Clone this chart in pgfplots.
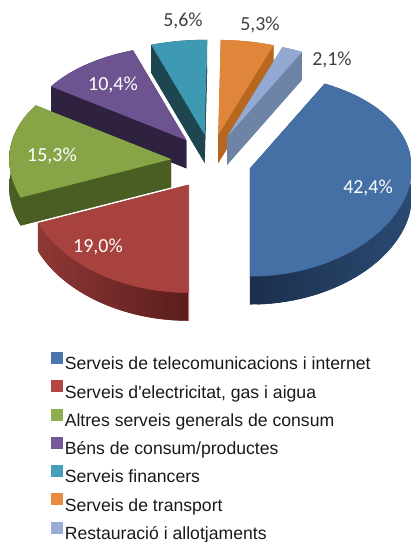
\documentclass[border=0pt]{standalone}
\usepackage{pgfplots}
\pgfplotsset{compat=1.18}
\usepackage{fontspec}
\setmainfont{Liberation Sans}
\newfontfamily\calibri{Carlito}

% top-face colours
\definecolor{tA}{HTML}{4470A6}
\definecolor{tB}{HTML}{A8423F}
\definecolor{tC}{HTML}{87A547}
\definecolor{tD}{HTML}{6D5490}
\definecolor{tE}{HTML}{3E9AB2}
\definecolor{tF}{HTML}{E0863A}
\definecolor{tG}{HTML}{93A8D2}
% side colours (left / right of gradient)
\definecolor{dA}{HTML}{1B2F4D}\definecolor{eA}{HTML}{2B4A72}
\definecolor{dB}{HTML}{8E3835}\definecolor{eB}{HTML}{5A1D1C}
\definecolor{dC}{HTML}{4A5E23}\definecolor{eC}{HTML}{4A5E23}
\definecolor{dD}{HTML}{2E2240}\definecolor{eD}{HTML}{2E2240}
\definecolor{dE}{HTML}{1D4650}\definecolor{eE}{HTML}{1D4650}
\definecolor{dF}{HTML}{B8671F}\definecolor{eF}{HTML}{B8671F}
\definecolor{dG}{HTML}{6E84A6}\definecolor{eG}{HTML}{6E84A6}
% legend colours
\definecolor{lA}{HTML}{4A76AE}
\definecolor{lB}{HTML}{B44744}
\definecolor{lC}{HTML}{8DAE4C}
\definecolor{lD}{HTML}{735997}
\definecolor{lE}{HTML}{44A0B8}
\definecolor{lF}{HTML}{E88B3E}
\definecolor{lG}{HTML}{98ADD5}

% data (percentages)
\def\vA{42.4}\def\vB{19.0}\def\vC{15.3}\def\vD{10.4}
\def\vE{5.6}\def\vF{5.3}\def\vG{2.1}

\pgfmathsetmacro\tot{\vA+\vB+\vC+\vD+\vE+\vF+\vG}
\pgfmathsetmacro\kk{360/\tot}
\pgfmathsetmacro\aA{180-\kk*\vA}
\pgfmathsetmacro\aB{180}
\pgfmathsetmacro\aC{\aB+\kk*\vB}
\pgfmathsetmacro\aD{\aC+\kk*\vC}
\pgfmathsetmacro\aE{\aD+\kk*\vD}
\pgfmathsetmacro\aF{\aE+\kk*\vE}
\pgfmathsetmacro\aG{\aF+\kk*\vF}
\pgfmathsetmacro\aH{\aA+360}

% geometry (px)
\def\CX{211}\def\CY{162}\def\RX{162}\def\RY{101.5}\def\RQ{6.5}
\def\EX{40}\def\EY{27.5}\def\HH{28}

\newcommand\drawslice[5]{%
 \pgfmathsetmacro\sM{(#1+#2)/2}%
 \pgfmathsetmacro\Px{\CX+\EX*sin(\sM)}%
 \pgfmathsetmacro\Py{\CY-\EY*cos(\sM)}%
 \pgfmathsetmacro\Ax{\Px+\RX*sin(#1)}%
 \pgfmathsetmacro\Ay{\Py-\RY*cos(#1)+\RQ*cos(#1)^2}%
 \pgfmathsetmacro\Bx{\Px+\RX*sin(#2)}%
 \pgfmathsetmacro\By{\Py-\RY*cos(#2)+\RQ*cos(#2)^2}%
 \pgfmathsetmacro\PyH{\Py+\HH}%
 \pgfmathsetmacro\AyH{\Ay+\HH}%
 \pgfmathsetmacro\ByH{\By+\HH}%
 \pgfmathsetmacro\sE{2*#2-#1}%
 \edef\temp{%
  \noexpand\addplot[forget plot,fill=#4,draw=none,domain=#1:#2,samples=60]
    ({\Px+\RX*sin(x)},{\PyH-\RY*cos(x)+\RQ*cos(x)^2}) -- (\Px,\PyH) -- cycle;
  \noexpand\addplot[forget plot,fill=#4,draw=none]
    coordinates {(\Px,\Py) (\Ax,\Ay) (\Ax,\AyH) (\Px,\PyH)} -- cycle;
  \noexpand\addplot[forget plot,fill=#4,draw=none]
    coordinates {(\Px,\Py) (\Bx,\By) (\Bx,\ByH) (\Px,\PyH)} -- cycle;
  \noexpand\addplot[forget plot,left color=#4,right color=#5,draw=none,domain=#1:\sE,samples=121]
    ({\Px+\RX*sin(min(x,2*#2-x))},{\Py+\HH*(x>#2)-\RY*cos(min(x,2*#2-x))+\RQ*cos(min(x,2*#2-x))^2}) -- cycle;
  \noexpand\addplot[forget plot,fill=#3,draw=none,domain=#1:#2,samples=60]
    ({\Px+\RX*sin(x)},{\Py-\RY*cos(x)+\RQ*cos(x)^2}) -- (\Px,\Py) -- cycle;
 }\temp}

\begin{document}
\begin{tikzpicture}
\begin{axis}[
  width=411bp, height=542bp, scale only axis,
  xmin=0, xmax=411, ymin=0, ymax=542, y dir=reverse,
  hide axis,
  legend cell align=left,
  legend style={at={(axis cs:50.7,351.8)}, anchor=north west, draw=none, fill=none,
    inner sep=0pt, column sep=2.5bp, row sep=9.0bp,
    font=\fontsize{17.7}{21}\selectfont, text=black!90,
    nodes={inner sep=0pt}},
]
\path (rel axis cs:0,0) rectangle (rel axis cs:1,1);

\drawslice{\aE}{\aF}{tE}{dE}{eE}
\drawslice{\aF}{\aG}{tF}{dF}{eF}
\drawslice{\aG}{\aH}{tG}{dG}{eG}
\drawslice{\aD}{\aE}{tD}{dD}{eD}
\drawslice{\aC}{\aD}{tC}{dC}{eC}
\drawslice{\aB}{\aC}{tB}{dB}{eB}
\drawslice{\aA}{\aB}{tA}{dA}{eA}

\node[font=\calibri\fontsize{20}{24}\selectfont, text=white] at (axis cs:368,188) {42,4\%};
\node[font=\calibri\fontsize{20}{24}\selectfont, text=white] at (axis cs:98,247) {19,0\%};
\node[font=\calibri\fontsize{20}{24}\selectfont, text=white] at (axis cs:52,156) {15,3\%};
\node[font=\calibri\fontsize{20}{24}\selectfont, text=white] at (axis cs:113,85) {10,4\%};
\node[font=\calibri\fontsize{20}{24}\selectfont, text=black!75] at (axis cs:183,21) {5,6\%};
\node[font=\calibri\fontsize{20}{24}\selectfont, text=black!75] at (axis cs:260,25) {5,3\%};
\node[font=\calibri\fontsize{20}{24}\selectfont, text=black!75] at (axis cs:332,60) {2,1\%};

\addlegendimage{legend image code/.code={\fill[lA] (0bp,0bp) rectangle (11bp,11bp);}}
\addlegendentry{\strut Serveis de telecomunicacions i internet}
\addlegendimage{legend image code/.code={\fill[lB] (0bp,0bp) rectangle (11bp,11bp);}}
\addlegendentry{\strut Serveis d\textquotesingle electricitat, gas i aigua}
\addlegendimage{legend image code/.code={\fill[lC] (0bp,0bp) rectangle (11bp,11bp);}}
\addlegendentry{\strut Altres serveis generals de consum}
\addlegendimage{legend image code/.code={\fill[lD] (0bp,0bp) rectangle (11bp,11bp);}}
\addlegendentry{\strut Béns de consum/productes}
\addlegendimage{legend image code/.code={\fill[lE] (0bp,0bp) rectangle (11bp,11bp);}}
\addlegendentry{\strut Serveis financers}
\addlegendimage{legend image code/.code={\fill[lF] (0bp,0bp) rectangle (11bp,11bp);}}
\addlegendentry{\strut Serveis de transport}
\addlegendimage{legend image code/.code={\fill[lG] (0bp,0bp) rectangle (11bp,11bp);}}
\addlegendentry{\strut Restauració i allotjaments}
\end{axis}
\end{tikzpicture}
\end{document}
